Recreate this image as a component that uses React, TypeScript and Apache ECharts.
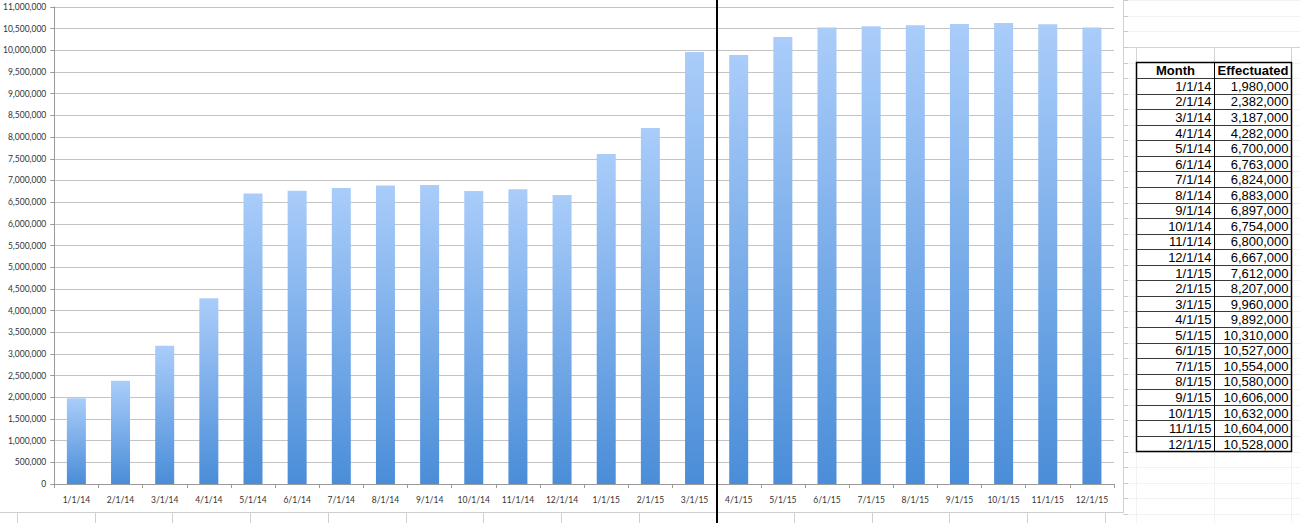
import React, { useEffect, useRef } from "react";
import * as echarts from "echarts";

const months = [
  "1/1/14", "2/1/14", "3/1/14", "4/1/14", "5/1/14", "6/1/14", "7/1/14", "8/1/14",
  "9/1/14", "10/1/14", "11/1/14", "12/1/14", "1/1/15", "2/1/15", "3/1/15", "4/1/15",
  "5/1/15", "6/1/15", "7/1/15", "8/1/15", "9/1/15", "10/1/15", "11/1/15", "12/1/15",
];
const effectuated = [
  1980000, 2382000, 3187000, 4282000, 6700000, 6763000, 6824000, 6883000,
  6897000, 6754000, 6800000, 6667000, 7612000, 8207000, 9960000, 9892000,
  10310000, 10527000, 10554000, 10580000, 10606000, 10632000, 10604000, 10528000,
];
const tableHeaders = ["Month", "Effectuated"];

const fmt = (v: number) => v.toLocaleString("en-US");

function buildGraphics() {
  const g: any[] = [];
  const tLeft = 1136.5;
  const tMid = 1214.5;
  const tRight = 1291.5;
  const tTop = 62.5;
  const rowH = 15.56;
  const nRows = months.length + 1;
  const tBottom = tTop + rowH * nRows;
  const font = "13px 'Liberation Sans', Arial";
  const bold = "bold 13px 'Liberation Sans', Arial";

  // faint spreadsheet gridlines on the right
  for (let k = -4; k <= nRows + 4; k++) {
    const y = Math.round(tTop + rowH * k) + 0.5;
    if (y < 0 || y > 523) continue;
    g.push({
      type: "line",
      shape: { x1: 1124, y1: y, x2: 1300, y2: y },
      style: { stroke: k === -1 ? "#d4d4d4" : "#f2f2f2", lineWidth: 1 },
      z: 1,
    });
    g.push({
      type: "line",
      shape: { x1: 1123.5, y1: y, x2: 1128, y2: y },
      style: { stroke: "#c8c8c8", lineWidth: 1 },
      z: 2,
    });
  }
  // column lines above/below table
  [tLeft, tMid, tRight].forEach((x) => {
    g.push({
      type: "line",
      shape: { x1: x, y1: Math.round(tTop - rowH) + 0.5, x2: x, y2: tTop },
      style: { stroke: "#d4d4d4", lineWidth: 1 },
      z: 1,
    });
    g.push({
      type: "line",
      shape: { x1: x, y1: tBottom, x2: x, y2: 523 },
      style: { stroke: "#f2f2f2", lineWidth: 1 },
      z: 1,
    });
  });

  // table background
  g.push({
    type: "rect",
    shape: { x: tLeft, y: tTop, width: tRight - tLeft, height: tBottom - tTop },
    style: { fill: "#ffffff", stroke: "#000", lineWidth: 1.5 },
    z: 5,
  });
  // row lines
  for (let k = 1; k < nRows; k++) {
    const y = Math.round(tTop + rowH * k) + 0.5;
    g.push({
      type: "line",
      shape: { x1: tLeft, y1: y, x2: tRight, y2: y },
      style: { stroke: "#3a3a3a", lineWidth: 1 },
      z: 6,
    });
  }
  g.push({
    type: "line",
    shape: { x1: tMid, y1: tTop, x2: tMid, y2: tBottom },
    style: { stroke: "#000", lineWidth: 1 },
    z: 6,
  });
  // header text
  [[(tLeft + tMid) / 2, tableHeaders[0]], [(tMid + tRight) / 2, tableHeaders[1]]].forEach(
    ([x, t]) => {
      g.push({
        type: "text",
        x: x as number,
        y: tTop + rowH / 2 + 0.5,
        style: {
          text: t as string, fill: "#000", font: bold,
          align: "center", verticalAlign: "middle", textAlign: "center", textVerticalAlign: "middle",
        },
        z: 7,
      });
    }
  );
  months.forEach((m, i) => {
    const cy = tTop + rowH * (i + 1) + rowH / 2 + 0.5;
    g.push({
      type: "text",
      x: tMid - 3,
      y: cy,
      style: {
        text: m, fill: "#000", font,
        align: "right", verticalAlign: "middle", textAlign: "right", textVerticalAlign: "middle",
      },
      z: 7,
    });
    g.push({
      type: "text",
      x: tRight - 3,
      y: cy,
      style: {
        text: fmt(effectuated[i]), fill: "#000", font,
        align: "right", verticalAlign: "middle", textAlign: "right", textVerticalAlign: "middle",
      },
      z: 7,
    });
  });

  // chart frame right and bottom
  g.push({
    type: "line",
    shape: { x1: 1123.5, y1: 0, x2: 1123.5, y2: 512 },
    style: { stroke: "#d0d0d0", lineWidth: 1 },
    z: 2,
  });
  g.push({
    type: "line",
    shape: { x1: 0, y1: 512.5, x2: 1124, y2: 512.5 },
    style: { stroke: "#d0d0d0", lineWidth: 1 },
    z: 2,
  });
  // spreadsheet column lines below chart
  for (let k = 0; k < 15; k++) {
    const x = Math.round(17 + 77.7 * k) + 0.5;
    g.push({
      type: "line",
      shape: { x1: x, y1: 513, x2: x, y2: 523 },
      style: { stroke: "#d0d0d0", lineWidth: 1 },
      z: 2,
    });
  }
  // black divider line
  g.push({
    type: "line",
    shape: { x1: 717, y1: 0, x2: 717, y2: 523 },
    style: { stroke: "#000", lineWidth: 2 },
    z: 20,
  });
  return g;
}

export default function App() {
  const ref = useRef<HTMLDivElement>(null);
  useEffect(() => {
    if (!ref.current) return;
    const chart = echarts.init(ref.current, undefined, { renderer: "svg" });
    chart.setOption({
      animation: false,
      backgroundColor: "#ffffff",
      grid: { left: 53, right: 186, top: 7, bottom: 39, containLabel: false },
      xAxis: {
        type: "category",
        data: months,
        axisLine: { show: true, lineStyle: { color: "#9a9a9a", width: 1 } },
        axisTick: { show: true, length: 4, alignWithLabel: false, lineStyle: { color: "#9a9a9a" } },
        axisLabel: {
          interval: 0, fontSize: 8.5, fontFamily: "Lato, 'Liberation Sans', sans-serif",
          color: "#333", margin: 11,
        },
        splitLine: { show: false },
      },
      yAxis: {
        type: "value",
        min: 0,
        max: 11000000,
        interval: 500000,
        axisLine: { show: true, lineStyle: { color: "#9a9a9a", width: 1 } },
        axisTick: { show: true, length: 4, lineStyle: { color: "#9a9a9a" } },
        axisLabel: {
          formatter: (v: number) => fmt(v),
          fontSize: 8.5, fontFamily: "Lato, 'Liberation Sans', sans-serif",
          color: "#333", margin: 8,
        },
        splitLine: { show: true, lineStyle: { color: "#c4c4c4", width: 1 } },
      },
      series: [
        {
          type: "bar",
          data: effectuated,
          barWidth: 19,
          itemStyle: {
            color: new echarts.graphic.LinearGradient(0, 0, 0, 1, [
              { offset: 0, color: "#aacdfa" },
              { offset: 1, color: "#4a8dd8" },
            ]),
          },
        },
      ],
      graphic: buildGraphics(),
    });
    return () => chart.dispose();
  }, []);
  return (
    <div
      ref={ref}
      style={{ position: "absolute", left: 0, top: 0, width: 1300, height: 523 }}
    />
  );
}
